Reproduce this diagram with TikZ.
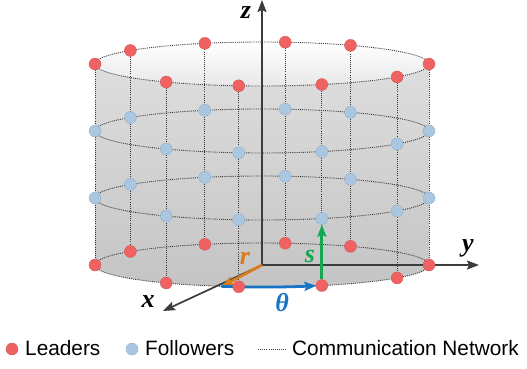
\documentclass[tikz,border=0pt]{standalone}
\usepackage{fontspec}
\setmainfont{Liberation Sans}
\newfontfamily\axisfont{Liberation Serif}
\usetikzlibrary{arrows.meta,calc,backgrounds}
\definecolor{ldrred}{RGB}{240,98,98}
\definecolor{flwblue}{RGB}{170,199,226}
\definecolor{axgray}{RGB}{60,60,60}
\definecolor{rorange}{RGB}{217,124,30}
\definecolor{thblue}{RGB}{24,116,196}
\definecolor{sgreen}{RGB}{18,168,79}
\begin{document}
\begin{tikzpicture}[x=1pt,y=1pt,
  leader/.style={circle,inner sep=0pt,minimum size=12pt,fill=ldrred,draw=ldrred!85!black,line width=0.3pt},
  follower/.style={circle,inner sep=0pt,minimum size=12pt,fill=flwblue,draw=flwblue!85!black,line width=0.3pt},
  network/.style={draw=black!78,line width=0.9pt,dash pattern=on 1pt off 1.1pt},
  axis/.style={draw=axgray,line width=1.7pt,-{Stealth[length=12pt,width=9pt,inset=2pt]}},
  vec/.style={line width=2.8pt,-{Stealth[length=12pt,width=9pt,inset=2pt]}},
  axlabel/.style={inner sep=0pt,font=\axisfont\fontsize{26}{30}\selectfont\bfseries\itshape},
  legend/.style={inner sep=0pt,anchor=west,font=\fontsize{20.8}{25}\selectfont}]
\useasboundingbox (0,0) rectangle (527,368);
% agents on four rings
\foreach \lv/\cy/\kind in {1/304/leader,2/237/follower,3/170/follower,4/103/leader} {
  \coordinate (c\lv) at (262,\cy);
  \foreach \a [count=\i] in {0,58,82,110,142,180,235,262,291,324}
    \node[\kind] (p\lv-\i) at ($(c\lv)+(\a:167 and 22)$) {};
}
\begin{scope}[on background layer]
% cylinder
\path[top color=black!13,bottom color=black!23] (95,304) -- (95,103)
  arc[start angle=180,end angle=360,x radius=167pt,y radius=22pt] -- (429,304)
  arc[start angle=0,end angle=-180,x radius=167pt,y radius=22pt] -- cycle;
\path[top color=white,bottom color=black!9] (c1) ellipse[x radius=167pt,y radius=22pt];
% communication links
\foreach \lv in {1,...,4} \draw[network] (c\lv) ellipse[x radius=167pt,y radius=22pt];
\foreach \i in {1,...,10} \draw[network] (p1-\i) -- (p4-\i);
% axes
\coordinate (O) at (262,103);
\coordinate (zend) at (262,368);
\coordinate (yend) at (479,103);
\coordinate (xend) at (163,57);
\draw[axis] (O) -- (zend);
\draw[axis] (O) -- (yend);
\draw[axis] (O) -- (xend);
% r, theta, s
\coordinate (thstart) at ($(c4)+(256:167 and 22)$);
\draw[vec,rorange] (O) -- (thstart);
\draw[vec,thblue] (thstart) arc[start angle=256,end angle=289,x radius=167pt,y radius=22pt];
\draw[vec,sgreen] (p4-9) -- (p3-9);
\end{scope}
\node[axlabel] (zlab) at (246,355) {z};
\node[axlabel] (ylab) at (468,120) {y};
\node[axlabel] (xlab) at (148,66) {x};
\node[axlabel,rorange] (rlab) at (245,110) {r};
\node[axlabel,sgreen] (slab) at (310,112) {s};
\node[axlabel,thblue] (thlab) at (282,65) {θ};
% legend
\node[leader] (legldr) at (12,19) {};
\node[legend] (legldrtxt) at (25,19.5) {Leaders};
\node[follower] (legflw) at (132,19) {};
\node[legend] (legflwtxt) at (145,19.5) {Followers};
\coordinate (legnet-a) at (258,19);
\coordinate (legnet-b) at (286,19);
\draw[network,line width=0.6pt] (legnet-a) -- (legnet-b);
\node[legend] (legnettxt) at (292,19.5) {Communication Network};
\end{tikzpicture}
\end{document}
